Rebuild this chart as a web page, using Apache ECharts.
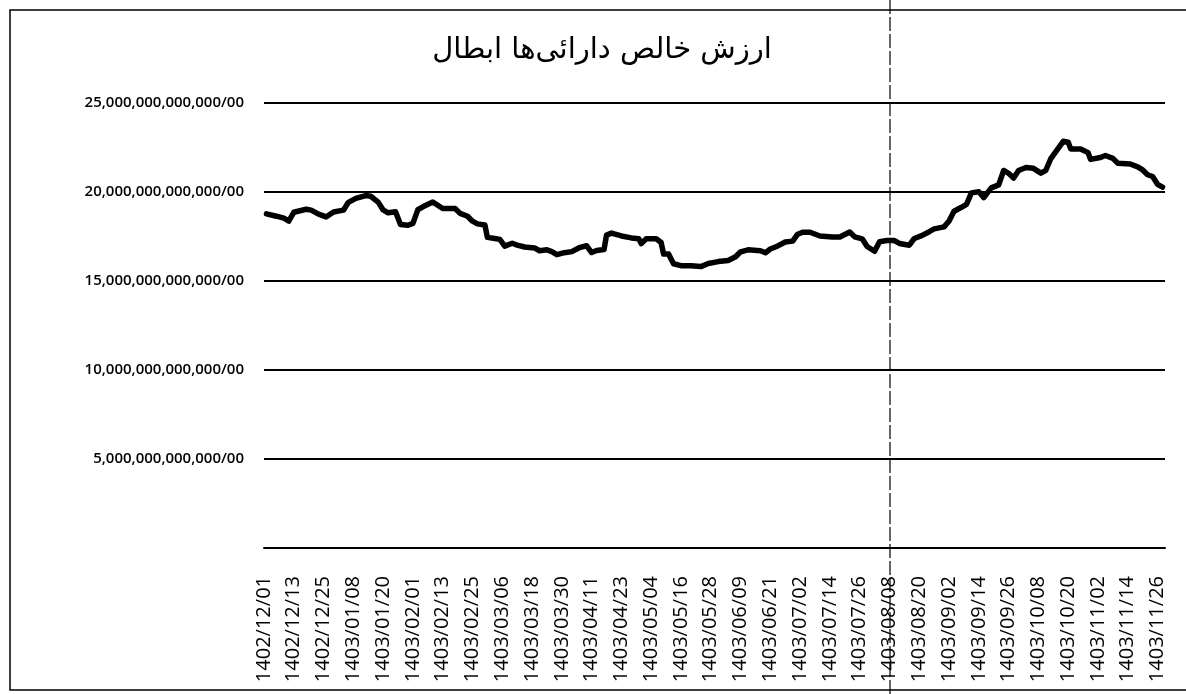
<!DOCTYPE html>
<html>
<head>
<meta charset="utf-8">
<script src="https://cdn.jsdelivr.net/npm/echarts@6/dist/echarts.min.js"></script>
<style>
  html, body { margin: 0; padding: 0; background: #fff; }
  #chart { width: 1186px; height: 694px; }
</style>
</head>
<body>
<div id="chart"></div>
<script>
// tick labels, one every 12 days
var tickLabels = [
    '1402/12/01', '1402/12/13', '1402/12/25', '1403/01/08', '1403/01/20',
    '1403/02/01', '1403/02/13', '1403/02/25', '1403/03/06', '1403/03/18',
    '1403/03/30', '1403/04/11', '1403/04/23', '1403/05/04', '1403/05/16',
    '1403/05/28', '1403/06/09', '1403/06/21', '1403/07/02', '1403/07/14',
    '1403/07/26', '1403/08/08', '1403/08/20', '1403/09/02', '1403/09/14',
    '1403/09/26', '1403/10/08', '1403/10/20', '1403/11/02', '1403/11/14',
    '1403/11/26'
];
var tickStep = 12;

// day offset from 1402/12/01
var days = [
    1, 5, 8, 10, 12, 17, 19, 22, 25, 28, 32, 34, 37, 41, 43, 46, 48, 50, 53, 55,
    58, 60, 62, 64, 68, 72, 77, 79, 82, 84, 86, 89, 90, 93, 95, 97, 100, 102, 105, 109,
    111, 114, 116, 118, 121, 124, 127, 130, 132, 134, 137, 138, 140, 144, 148, 151, 152, 154, 158, 160,
    161, 163, 165, 168, 172, 176, 179, 183, 187, 190, 192, 195, 200, 202, 204, 207, 210, 213, 215, 217,
    220, 224, 229, 232, 236, 238, 241, 243, 246, 248, 251, 254, 256, 260, 262, 265, 268, 270, 274, 276,
    278, 281, 283, 285, 288, 290, 293, 296, 298, 300, 302, 304, 307, 310, 313, 315, 317, 322, 324, 325,
    329, 332, 333, 337, 339, 342, 344, 349, 352, 354, 356, 358, 360, 362
];
// net asset value, in trillions
var navTrillion = [
    18.77, 18.64, 18.53, 18.37, 18.86, 19.03, 18.98, 18.76, 18.60, 18.88, 18.98, 19.42, 19.64, 19.80, 19.76, 19.43, 18.99, 18.83, 18.89, 18.18,
    18.13, 18.24, 19.01, 19.17, 19.44, 19.07, 19.07, 18.80, 18.64, 18.36, 18.21, 18.15, 17.45, 17.39, 17.34, 16.96, 17.12, 17.02, 16.91, 16.86,
    16.70, 16.75, 16.65, 16.48, 16.59, 16.65, 16.87, 16.98, 16.60, 16.71, 16.77, 17.58, 17.69, 17.53, 17.42, 17.37, 17.10, 17.37, 17.37, 17.16,
    16.51, 16.51, 15.97, 15.86, 15.86, 15.81, 15.98, 16.09, 16.15, 16.36, 16.64, 16.75, 16.70, 16.59, 16.80, 16.97, 17.19, 17.24, 17.63, 17.74,
    17.74, 17.53, 17.47, 17.47, 17.75, 17.48, 17.37, 16.94, 16.67, 17.21, 17.27, 17.27, 17.11, 17.01, 17.39, 17.55, 17.77, 17.93, 18.04, 18.37,
    18.92, 19.14, 19.30, 19.95, 20.01, 19.68, 20.23, 20.40, 21.21, 21.05, 20.78, 21.21, 21.38, 21.33, 21.06, 21.22, 21.88, 22.85, 22.80, 22.42,
    22.42, 22.21, 21.83, 21.94, 22.05, 21.89, 21.62, 21.57, 21.41, 21.24, 20.97, 20.87, 20.43, 20.27
];

var titleText = 'ارزش خالص دارائی\u200cها ابطال';

var seriesData = days.map(function(d, i) {
    return [d, navTrillion[i] * 1e12];
});

var chart = echarts.init(document.getElementById('chart'), null, { renderer: 'canvas' });

chart.setOption({
    backgroundColor: '#fff',
    animation: false,
    title: {
        text: titleText,
        left: 597,
        top: 31,
        textAlign: 'center',
        textStyle: {
            fontFamily: 'DejaVu Sans',
            fontSize: 29,
            fontWeight: 'normal',
            color: '#000'
        }
    },
    grid: {
        left: 264,
        right: 21,
        top: 103,
        bottom: 146,
        containLabel: false
    },
    xAxis: {
        type: 'value',
        min: 0,
        max: 363,
        interval: tickStep,
        axisLine: { show: true, lineStyle: { color: '#000', width: 2 } },
        axisTick: { show: false },
        splitLine: { show: false },
        axisLabel: {
            rotate: 90,
            margin: 28,
            color: '#000',
            fontFamily: 'Open Sans',
            fontSize: 20,
            fontWeight: 500,
            formatter: function(v) {
                if (v % tickStep !== 0) return '';
                return tickLabels[v / tickStep] || '';
            }
        }
    },
    yAxis: {
        type: 'value',
        min: 0,
        max: 25e12,
        interval: 5e12,
        axisLine: { show: false },
        axisTick: { show: false },
        splitLine: { show: true, lineStyle: { color: '#000', width: 2 } },
        axisLabel: {
            margin: 20,
            color: '#000',
            fontFamily: 'Open Sans',
            fontSize: 15,
            fontWeight: 600,
            formatter: function(v) {
                if (v === 0) return '';
                return v.toLocaleString('en-US') + '/00';
            }
        }
    },
    graphic: [
        {
            type: 'rect',
            shape: { x: 10, y: 10, width: 1200, height: 680 },
            style: { fill: 'none', stroke: '#000', lineWidth: 1.5 },
            silent: true
        },
        {
            type: 'line',
            shape: { x1: 890, y1: 0, x2: 890, y2: 694 },
            style: { stroke: '#000', lineWidth: 1.2, lineDash: [14, 3] },
            silent: true
        }
    ],
    series: [{
        type: 'line',
        data: seriesData,
        showSymbol: false,
        symbol: 'none',
        lineStyle: { color: '#000', width: 5.5, join: 'round', cap: 'round' }
    }]
});
</script>
</body>
</html>
